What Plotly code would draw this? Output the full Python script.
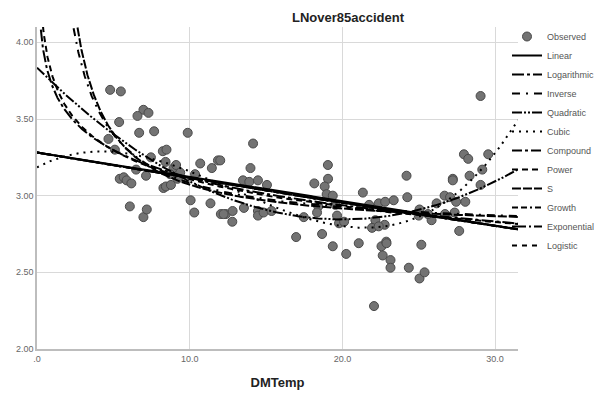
import numpy as np
import plotly.graph_objects as go

dm_temp = [4.68, 4.79, 5.49, 5.38, 5.10, 6.97, 7.30, 6.58, 6.69, 7.67, 9.87,
           8.24, 8.48, 7.46, 8.42, 8.94, 9.11, 6.49, 7.14,
           5.42, 5.68, 5.87, 6.18,
           8.28, 8.44, 8.77, 8.72, 9.38, 9.20,
           10.35, 10.69, 11.45, 11.85,
           6.08, 6.97, 7.19,
           10.06, 10.30, 11.36, 12.04, 12.37, 12.81, 12.79, 13.55, 14.47, 14.47, 14.84, 15.36, 12.22,
           12.00, 14.15, 13.98, 13.49, 13.90, 14.47, 15.06,
           16.97, 17.47, 18.42, 18.34,
           19.05, 19.06, 18.16, 18.84, 18.97, 19.37, 19.54, 19.65, 19.78, 20.11,
           18.67, 19.37, 20.25, 21.07,
           21.34, 24.20,
           21.75, 22.38, 22.80, 23.36, 24.25,
           22.16, 22.77, 21.94, 22.38,
           22.56, 22.87, 22.89, 22.64, 23.15, 23.15, 24.35, 25.05, 25.38, 25.17, 22.07,
           25.05, 25.00, 25.84, 25.60, 26.17, 26.69, 27.05, 26.72, 27.35, 27.45, 28.05, 27.65,
           27.96, 28.24, 29.55, 29.16, 28.33, 27.23, 27.23, 29.05, 29.05]
ln_over85 = [3.37, 3.69, 3.68, 3.48, 3.30, 3.56, 3.54, 3.52, 3.41, 3.42, 3.41,
             3.29, 3.30, 3.25, 3.22, 3.18, 3.20, 3.17, 3.13,
             3.11, 3.12, 3.10, 3.08,
             3.05, 3.06, 3.07, 3.14, 3.15, 3.11,
             3.14, 3.21, 3.18, 3.23,
             2.93, 2.86, 2.91,
             2.97, 2.89, 2.95, 2.88, 2.88, 2.90, 2.83, 2.92, 2.90, 2.87, 2.89, 2.90, 2.88,
             3.23, 3.34, 3.18, 3.10, 3.09, 3.10, 3.07,
             2.73, 2.86, 2.93, 2.89,
             3.20, 3.11, 3.08, 3.06, 3.01, 3.00, 2.94, 2.87, 2.82, 2.83,
             2.75, 2.67, 2.62, 2.69,
             3.02, 3.13,
             2.94, 2.95, 2.96, 2.97, 2.99,
             2.84, 2.81, 2.79, 2.80,
             2.67, 2.70, 2.69, 2.61, 2.58, 2.53, 2.53, 2.46, 2.50, 2.68, 2.28,
             2.91, 2.87, 2.84, 2.88, 2.95, 3.00, 2.99, 2.88, 2.89, 2.96, 2.96, 2.77,
             3.27, 3.24, 3.27, 3.17, 3.13, 3.11, 3.10, 3.07, 3.65]

models = ["Linear", "Logarithmic", "Inverse", "Quadratic", "Cubic", "Compound",
          "Power", "S", "Growth", "Exponential", "Logistic"]
x_tick_vals = [0, 10, 20, 30]
x_tick_text = [".0", "10.0", "20.0", "30.0"]
y_tick_vals = [2.0, 2.5, 3.0, 3.5, 4.0]
y_tick_text = ["2.00", "2.50", "3.00", "3.50", "4.00"]

x = np.array(dm_temp)
y = np.array(ln_over85)
ly = np.log(y)

# Curve estimation fits (as SPSS "Curve Estimation")
xg = np.linspace(0.0, 31.5, 800)
xp = np.linspace(0.05, 31.5, 1600)
fits = {}
b = np.polyfit(x, y, 1); fits["Linear"] = (xg, np.polyval(b, xg))
b = np.polyfit(np.log(x), y, 1); fits["Logarithmic"] = (xp, np.polyval(b, np.log(xp)))
b = np.polyfit(1 / x, y, 1); fits["Inverse"] = (xp, np.polyval(b, 1 / xp))
b = np.polyfit(x, y, 2); fits["Quadratic"] = (xg, np.polyval(b, xg))
b = np.polyfit(x, y, 3); fits["Cubic"] = (xg, np.polyval(b, xg))
b = np.polyfit(x, ly, 1); expo = np.exp(np.polyval(b, xg))
fits["Compound"] = (xg, expo)
b = np.polyfit(np.log(x), ly, 1); fits["Power"] = (xp, np.exp(np.polyval(b, np.log(xp))))
b = np.polyfit(1 / x, ly, 1); fits["S"] = (xp, np.exp(np.polyval(b, 1 / xp)))
fits["Growth"] = (xg, expo)
fits["Exponential"] = (xg, expo)
b = np.polyfit(x, -ly, 1); fits["Logistic"] = (xg, 1 / np.exp(np.polyval(b, xg)))

dashes = {
    "Linear": "solid",
    "Logarithmic": "12px,3px,3px,3px",
    "Inverse": "8px,6px,2px,6px",
    "Quadratic": "10px,2px,2px,2px,2px,2px",
    "Cubic": "2px,5px",
    "Compound": "10px,3px,3px,3px",
    "Power": "6px,4px",
    "S": "9px,2px",
    "Growth": "6px,3px,6px,3px,2px,3px",
    "Exponential": "14px,3px,2px,3px",
    "Logistic": "5px,5px",
}

fig = go.Figure()
fig.add_trace(go.Scatter(
    x=dm_temp, y=ln_over85, mode="markers", name="Observed",
    marker=dict(size=9, color="#737373", line=dict(color="#4a4a4a", width=1)),
))
for m in models:
    xs, ys = fits[m]
    fig.add_trace(go.Scatter(
        x=xs, y=ys, mode="lines", name=m,
        line=dict(color="black", width=2, dash=dashes[m]),
    ))

# The page adds an 8px body margin, so the figure is sized to fit the window.
W, H = 594, 385
font_family = "Arial, Liberation Sans, sans-serif"
fig.update_layout(
    width=W, height=H,
    margin=dict(l=29, r=84, t=19, b=44, autoexpand=False),
    paper_bgcolor="white", plot_bgcolor="white",
    font=dict(family=font_family, size=10, color="#555555"),
    title=dict(text="<b>LNover85accident</b>", x=340 / W, xanchor="center",
               y=1 - 9 / H, yanchor="middle",
               font=dict(size=13, color="#222222", family=font_family)),
    showlegend=True,
    legend=dict(xref="container", yref="container", x=499 / W, y=1 - 14 / H,
                xanchor="left", yanchor="top", maxheight=1,
                font=dict(size=9, color="#555555"),
                bgcolor="rgba(0,0,0,0)", itemwidth=30, tracegroupgap=0),
    xaxis=dict(range=[0, 31.5], tickvals=x_tick_vals, ticktext=x_tick_text,
               showgrid=True, gridcolor="#d9d9d9", gridwidth=1,
               showline=True, linecolor="#bdbdbd", linewidth=1.5, zeroline=False,
               ticks="", tickfont=dict(size=9, color="#666666"),
               title=dict(text="<b>DMTemp</b>", font=dict(size=13, color="#222222"), standoff=15)),
    yaxis=dict(range=[2.0, 4.1], tickvals=y_tick_vals, ticktext=y_tick_text,
               showgrid=True, gridcolor="#d9d9d9", gridwidth=1,
               showline=True, linecolor="#bdbdbd", linewidth=1.5, zeroline=False,
               ticks="", tickfont=dict(size=9, color="#666666")),
)

fig.write_html("out.html")
